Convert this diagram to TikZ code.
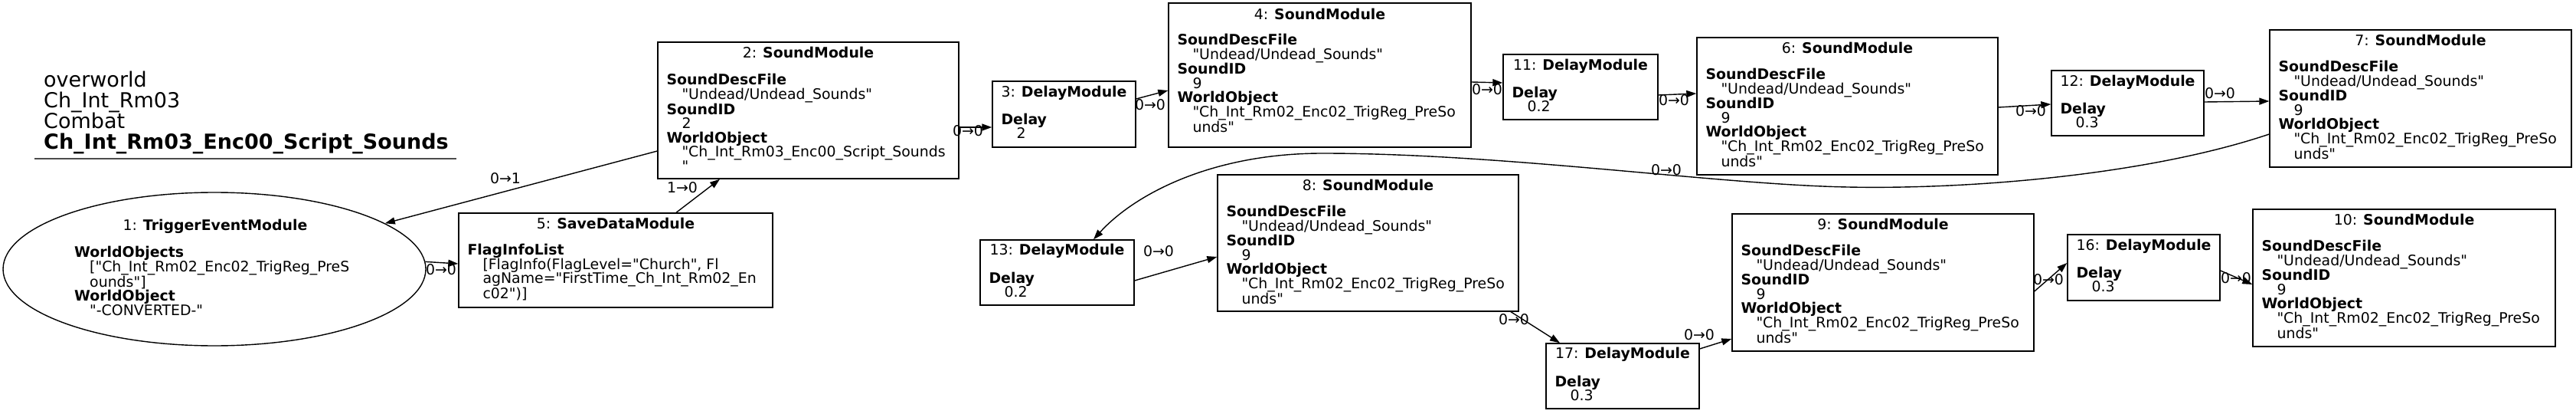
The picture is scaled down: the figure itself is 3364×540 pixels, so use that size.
\documentclass[tikz,border=0pt]{standalone}
\usepackage{fontspec}
\setmainfont{DejaVu Sans}[Ligatures=TeXOff]
\usetikzlibrary{arrows.meta,shapes.geometric}
\newcommand{\nf}{\fontsize{18.9pt}{18.5pt}\selectfont}
\newcommand{\tf}{\fontsize{27pt}{26.9pt}\selectfont}
\newcommand{\ind}{\hspace*{20pt}}
\tikzset{
  box/.style={draw, line width=1.4pt, rectangle, inner sep=0pt},
  ttl/.style={anchor=base, inner sep=0pt, font=\nf},
  bdy/.style={anchor=base west, inner sep=0pt, align=left, font=\nf},
  lbl/.style={inner sep=0pt, font=\nf},
  edge/.style={line width=1.4pt, -{Triangle[length=13pt,width=9pt]}}
}
\begin{document}
\begin{tikzpicture}[x=1pt,y=-1pt]
\useasboundingbox (0,0) rectangle (3364,540);
% title (anchored at the baseline of its last line)
\node[anchor=base west, align=left, inner sep=0pt, font=\tf] (title) at (57,194.7)
  {overworld\\Ch\_Int\_Rm03\\Combat\\\textbf{Ch\_Int\_Rm03\_Enc00\_Script\_Sounds}};
\draw[line width=2pt, black!70] (45,207) -- (596,207);

% node 1 ellipse
\node[draw, ellipse, line width=1.4pt, minimum width=552pt, minimum height=200pt, inner sep=0pt] (n1) at (280,351) {};
\node[ttl] at (281,300) {1: \textbf{TriggerEventModule}};
\node[bdy] at (97,411) {\textbf{WorldObjects}\\\ind["Ch\_Int\_Rm02\_Enc02\_TrigReg\_PreS\\\ind ounds"]\\\textbf{WorldObject}\\\ind"-CONVERTED-"};

% node 5
\node[box, minimum width=410pt, minimum height=123pt] (n5) at (804,339.5) {};
\node[ttl] at ([yshift=-21pt]n5.north) {5: \textbf{SaveDataModule}};
\node[bdy] at ([shift={(12pt,-112.5pt)}]n5.north west) {\textbf{FlagInfoList}\\\ind[FlagInfo(FlagLevel="Church", Fl\\\ind agName="FirstTime\_Ch\_Int\_Rm02\_En\\\ind c02")]};

% node 2
\node[box, minimum width=393pt, minimum height=178pt] (n2) at (1055.5,144) {};
\node[ttl] at ([yshift=-21pt]n2.north) {2: \textbf{SoundModule}};
\node[bdy] at ([shift={(12pt,-169pt)}]n2.north west) {\textbf{SoundDescFile}\\\ind"Undead/Undead\_Sounds"\\\textbf{SoundID}\\\ind 2\\\textbf{WorldObject}\\\ind"Ch\_Int\_Rm03\_Enc00\_Script\_Sounds\\\ind"};

% node 3
\node[box, minimum width=187pt, minimum height=86pt] (n3) at (1389.5,149) {};
\node[ttl] at ([yshift=-21pt]n3.north) {3: \textbf{DelayModule}};
\node[bdy] at ([shift={(12pt,-75.5pt)}]n3.north west) {\textbf{Delay}\\\ind 2};

% node 4
\node[box, minimum width=395pt, minimum height=188pt] (n4) at (1723.5,98) {};
\node[ttl] at ([yshift=-22pt]n4.north) {4: \textbf{SoundModule}};
\node[bdy] at ([shift={(12pt,-169pt)}]n4.north west) {\textbf{SoundDescFile}\\\ind"Undead/Undead\_Sounds"\\\textbf{SoundID}\\\ind 9\\\textbf{WorldObject}\\\ind"Ch\_Int\_Rm02\_Enc02\_TrigReg\_PreSo\\\ind unds"};

% node 11
\node[box, minimum width=202pt, minimum height=85pt] (n11) at (2064,113.5) {};
\node[ttl] at ([yshift=-21pt]n11.north) {11: \textbf{DelayModule}};
\node[bdy] at ([shift={(12pt,-75.5pt)}]n11.north west) {\textbf{Delay}\\\ind 0.2};

% node 6
\node[box, minimum width=393pt, minimum height=179pt] (n6) at (2412.5,138.5) {};
\node[ttl] at ([yshift=-21pt]n6.north) {6: \textbf{SoundModule}};
\node[bdy] at ([shift={(12pt,-169pt)}]n6.north west) {\textbf{SoundDescFile}\\\ind"Undead/Undead\_Sounds"\\\textbf{SoundID}\\\ind 9\\\textbf{WorldObject}\\\ind"Ch\_Int\_Rm02\_Enc02\_TrigReg\_PreSo\\\ind unds"};

% node 12
\node[box, minimum width=199pt, minimum height=85pt] (n12) at (2778.5,134.5) {};
\node[ttl] at ([yshift=-21pt]n12.north) {12: \textbf{DelayModule}};
\node[bdy] at ([shift={(12pt,-75.5pt)}]n12.north west) {\textbf{Delay}\\\ind 0.3};

% node 7
\node[box, minimum width=394pt, minimum height=179pt] (n7) at (3161,128.5) {};
\node[ttl] at ([yshift=-21pt]n7.north) {7: \textbf{SoundModule}};
\node[bdy] at ([shift={(12pt,-169pt)}]n7.north west) {\textbf{SoundDescFile}\\\ind"Undead/Undead\_Sounds"\\\textbf{SoundID}\\\ind 9\\\textbf{WorldObject}\\\ind"Ch\_Int\_Rm02\_Enc02\_TrigReg\_PreSo\\\ind unds"};

% node 13
\node[box, minimum width=201pt, minimum height=85pt] (n13) at (1380.5,355.5) {};
\node[ttl] at ([yshift=-20pt]n13.north) {13: \textbf{DelayModule}};
\node[bdy] at ([shift={(12pt,-75.5pt)}]n13.north west) {\textbf{Delay}\\\ind 0.2};

% node 8
\node[box, minimum width=393pt, minimum height=178pt] (n8) at (1786.5,317) {};
\node[ttl] at ([yshift=-21pt]n8.north) {8: \textbf{SoundModule}};
\node[bdy] at ([shift={(12pt,-169pt)}]n8.north west) {\textbf{SoundDescFile}\\\ind"Undead/Undead\_Sounds"\\\textbf{SoundID}\\\ind 9\\\textbf{WorldObject}\\\ind"Ch\_Int\_Rm02\_Enc02\_TrigReg\_PreSo\\\ind unds"};

% node 17
\node[box, minimum width=200pt, minimum height=85pt] (n17) at (2119,490.5) {};
\node[ttl] at ([yshift=-20pt]n17.north) {17: \textbf{DelayModule}};
\node[bdy] at ([shift={(12pt,-75.5pt)}]n17.north west) {\textbf{Delay}\\\ind 0.3};

% node 9
\node[box, minimum width=394pt, minimum height=179pt] (n9) at (2459,368.5) {};
\node[ttl] at ([yshift=-21pt]n9.north) {9: \textbf{SoundModule}};
\node[bdy] at ([shift={(12pt,-169pt)}]n9.north west) {\textbf{SoundDescFile}\\\ind"Undead/Undead\_Sounds"\\\textbf{SoundID}\\\ind 9\\\textbf{WorldObject}\\\ind"Ch\_Int\_Rm02\_Enc02\_TrigReg\_PreSo\\\ind unds"};

% node 16
\node[box, minimum width=199pt, minimum height=86pt] (n16) at (2799.5,349) {};
\node[ttl] at ([yshift=-21pt]n16.north) {16: \textbf{DelayModule}};
\node[bdy] at ([shift={(12pt,-75.5pt)}]n16.north west) {\textbf{Delay}\\\ind 0.3};

% node 10
\node[box, minimum width=395pt, minimum height=179pt] (n10) at (3139.5,362.5) {};
\node[ttl] at ([yshift=-21pt]n10.north) {10: \textbf{SoundModule}};
\node[bdy] at ([shift={(12pt,-169pt)}]n10.north west) {\textbf{SoundDescFile}\\\ind"Undead/Undead\_Sounds"\\\textbf{SoundID}\\\ind 9\\\textbf{WorldObject}\\\ind"Ch\_Int\_Rm02\_Enc02\_TrigReg\_PreSo\\\ind unds"};

% edges
\draw[edge] ([yshift=-53pt]n2.west) -- (n1.15);
\node[lbl] at (660,233) {0→1};
\draw[edge] ([xshift=79pt]n5.north) -- ([xshift=-115.5pt]n2.south);
\node[lbl] at (891,245) {1→0};
\draw[edge] (n1.2) -- ([yshift=-4.5pt]n5.west);
\node[lbl] at (576,352) {0→0};
\draw[edge] ([yshift=-22pt]n2.east) -- ([yshift=-17pt]n3.west);
\node[lbl] at (1264,171) {0→0};
\draw[edge] ([yshift=20pt]n3.east) -- ([yshift=-20pt]n4.west);
\node[lbl] at (1502,137) {0→0};
\draw[edge] ([yshift=-9pt]n4.east) -- ([yshift=5.5pt]n11.west);
\node[lbl] at (1942,117) {0→0};
\draw[edge] ([yshift=-10.5pt]n11.east) -- ([yshift=16.5pt]n6.west);
\node[lbl] at (2186,131) {0→0};
\draw[edge] ([yshift=-1.5pt]n6.east) -- ([yshift=-1.5pt]n12.west);
\node[lbl] at (2652,145) {0→0};
\draw[edge] ([yshift=1.5pt]n12.east) -- ([yshift=-3.5pt]n7.west);
\node[lbl] at (2899,122) {0→0};
\draw[edge] ([yshift=-46.5pt]n7.west) .. controls (2800,230) and (2550,250) .. (2380,243)
  .. controls (2210,236) and (1950,200) .. (1727,200)
  .. controls (1580,200) and (1480,255) .. ([xshift=47.5pt]n13.north);
\node[lbl] at (2176,222) {0→0};
\draw[edge] ([yshift=-10.5pt]n13.east) -- ([yshift=-18pt]n8.west);
\node[lbl] at (1513,328) {0→0};
\draw[edge] ([xshift=186.5pt]n8.south) -- ([xshift=-82pt]n17.north);
\node[lbl] at (1977,417) {0→0};
\draw[edge] ([yshift=35.5pt]n17.east) -- ([yshift=-73.5pt]n9.west);
\node[lbl] at (2219,437) {0→0};
\draw[edge] ([yshift=-11.5pt]n9.east) -- ([yshift=6pt]n16.west);
\node[lbl] at (2675,365) {0→0};
\draw[edge] ([yshift=-4pt]n16.east) -- ([yshift=-8.5pt]n10.west);
\node[lbl] at (2920,363) {0→0};
\end{tikzpicture}
\end{document}
